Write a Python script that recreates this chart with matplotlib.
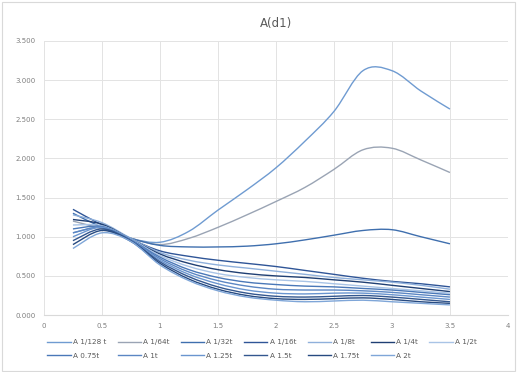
import matplotlib.pyplot as plt
from matplotlib.patches import Rectangle, PathPatch
from matplotlib.path import Path
from matplotlib.lines import Line2D

# x values (t) and the 13 series
t = [0.25, 0.5, 0.75, 1.0, 1.25, 1.5, 1.75, 2.0, 2.25, 2.5, 2.75, 3.0, 3.25, 3.5]

labels = ['A 1/128 t', 'A 1/64t', 'A 1/32t', 'A 1/16t', 'A 1/8t', 'A 1/4t', 'A 1/2t',
          'A 0.75t', 'A 1t', 'A 1.25t', 'A 1.5t', 'A 1.75t', 'A 2t']

s1 = [1.05, 1.12, 0.98, 0.93, 1.07, 1.34, 1.60, 1.88, 2.22, 2.60, 3.12, 3.12, 2.86, 2.63]
s2 = [1.20, 1.10, 0.98, 0.90, 0.98, 1.12, 1.28, 1.45, 1.63, 1.86, 2.11, 2.13, 1.98, 1.82]
s3 = [1.30, 1.12, 0.98, 0.89, 0.87, 0.87, 0.88, 0.91, 0.96, 1.02, 1.08, 1.09, 1.00, 0.91]
s4 = [1.35, 1.15, 0.97, 0.82, 0.75, 0.70, 0.66, 0.62, 0.57, 0.52, 0.47, 0.43, 0.40, 0.36]
s5 = [1.28, 1.18, 0.98, 0.80, 0.70, 0.64, 0.60, 0.56, 0.52, 0.48, 0.45, 0.42, 0.38, 0.33]
s6 = [1.22, 1.16, 0.97, 0.78, 0.66, 0.58, 0.53, 0.50, 0.48, 0.45, 0.42, 0.38, 0.34, 0.30]
s7 = [1.15, 1.14, 0.97, 0.76, 0.62, 0.53, 0.48, 0.45, 0.43, 0.40, 0.37, 0.34, 0.31, 0.28]
s8 = [1.10, 1.13, 0.96, 0.74, 0.58, 0.48, 0.42, 0.39, 0.37, 0.36, 0.34, 0.32, 0.29, 0.26]
s9 = [1.05, 1.12, 0.96, 0.72, 0.55, 0.44, 0.37, 0.33, 0.32, 0.32, 0.31, 0.29, 0.26, 0.23]
s10 = [1.00, 1.12, 0.95, 0.70, 0.52, 0.40, 0.32, 0.28, 0.27, 0.28, 0.28, 0.26, 0.23, 0.20]
s11 = [0.95, 1.10, 0.95, 0.68, 0.49, 0.36, 0.28, 0.24, 0.23, 0.24, 0.25, 0.23, 0.20, 0.17]
s12 = [0.90, 1.08, 0.94, 0.66, 0.46, 0.33, 0.25, 0.21, 0.20, 0.21, 0.22, 0.20, 0.17, 0.15]
s13 = [0.85, 1.05, 0.94, 0.64, 0.44, 0.31, 0.23, 0.19, 0.17, 0.18, 0.19, 0.17, 0.15, 0.13]
series = [s1, s2, s3, s4, s5, s6, s7, s8, s9, s10, s11, s12, s13]

colors = ['#6f9bd1', '#9aa4b4', '#3f6fae', '#2f5597', '#8fb0db', '#1f3f73', '#a9c4e6',
          '#4a78b8', '#5b86c3', '#6a95cf', '#33578f', '#274a80', '#7fa6d8']


def smooth_path(xs, ys):
    # Excel-style smoothed line: Catmull-Rom segments as cubic beziers
    pts = list(zip(xs, ys))
    verts = [pts[0]]
    codes = [Path.MOVETO]
    n = len(pts)
    for i in range(n - 1):
        p0 = pts[max(i - 1, 0)]
        p1 = pts[i]
        p2 = pts[i + 1]
        p3 = pts[min(i + 2, n - 1)]
        c1 = (p1[0] + (p2[0] - p0[0]) / 6, p1[1] + (p2[1] - p0[1]) / 6)
        c2 = (p2[0] - (p3[0] - p1[0]) / 6, p2[1] - (p3[1] - p1[1]) / 6)
        verts += [c1, c2, p2]
        codes += [Path.CURVE4] * 3
    return Path(verts, codes)


fig = plt.figure(figsize=(5.17, 3.72), dpi=100)
ax = fig.add_axes([0.085, 0.153, 0.8975, 0.737])
fig.patches.append(Rectangle((0.003, 0.004), 0.994, 0.99, transform=fig.transFigure,
                             fill=False, edgecolor='#d9d9d9', linewidth=0.8))

handles = []
for s, lab, c in zip(series, labels, colors):
    ax.add_patch(PathPatch(smooth_path(t, s), fill=False, edgecolor=c, linewidth=1.0))
    handles.append(Line2D([], [], color=c, linewidth=1.0))

ax.set_xlim(0, 4)
ax.set_ylim(0, 3.5)
ax.set_xticks([0, 0.5, 1, 1.5, 2, 2.5, 3, 3.5, 4])
ax.set_xticklabels(['0', '0.5', '1', '1.5', '2', '2.5', '3', '3.5', '4'])
ax.set_yticks([0, 0.5, 1, 1.5, 2, 2.5, 3, 3.5])
ax.set_yticklabels(['%.3f' % v for v in [0, 0.5, 1, 1.5, 2, 2.5, 3, 3.5]])
ax.grid(True, color='#e3e3e3', linewidth=0.7)
ax.set_axisbelow(True)
for sp in ['top', 'right', 'left']:
    ax.spines[sp].set_visible(False)
ax.spines['bottom'].set_color('#d9d9d9')
ax.tick_params(length=0, labelsize=5, labelcolor='#7f7f7f', pad=6)

ax.set_title('A(d1)', fontsize=8.5, color='#595959', pad=10)

# legend fills column-wise, reorder so it reads row by row
order = [0, 7, 1, 8, 2, 9, 3, 10, 4, 11, 5, 12, 6]
ax.legend([handles[i] for i in order], [labels[i] for i in order],
          loc='upper center', bbox_to_anchor=(0.47, -0.065), ncol=7, frameon=False,
          fontsize=5.2, handlelength=3.2, columnspacing=1.6, labelcolor='#595959',
          handletextpad=0.3, labelspacing=1.0)

fig.savefig('out.png', dpi=100)
